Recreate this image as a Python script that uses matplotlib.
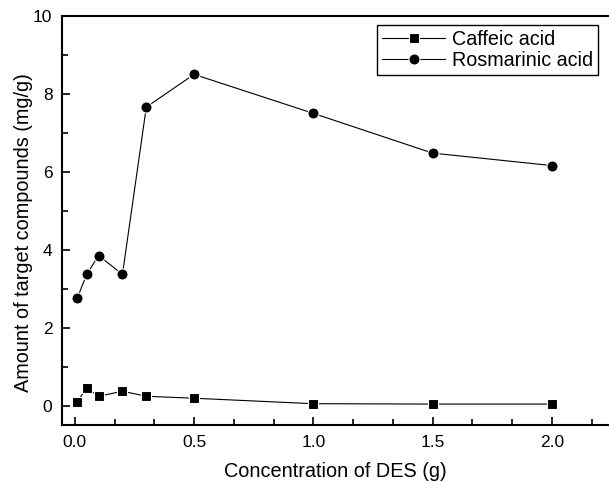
import matplotlib
matplotlib.use('Agg')

import matplotlib.pyplot as plt
from matplotlib.ticker import MultipleLocator, AutoMinorLocator

plt.rcParams['font.family'] = ['Liberation Sans', 'DejaVu Sans']

# data
des_amount = [0.01, 0.05, 0.1, 0.2, 0.3, 0.5, 1.0, 1.5, 2.0]
caffeic = [0.10, 0.45, 0.24, 0.37, 0.24, 0.19, 0.05, 0.04, 0.04]
rosmarinic = [2.75, 3.37, 3.85, 3.37, 7.66, 8.50, 7.50, 6.48, 6.16]

fig = plt.figure(figsize=(6.09, 4.82), dpi=100)
ax = fig.add_axes([0.102, 0.118, 0.898, 0.849])

ax.plot(des_amount, caffeic, color='black', lw=0.8, marker='s', ms=6.5,
        mfc='black', mec='white', mew=0.8, label='Caffeic acid')
ax.plot(des_amount, rosmarinic, color='black', lw=0.8, marker='o', ms=8,
        mfc='black', mec='white', mew=0.8, label='Rosmarinic acid')

ax.set_xlim(-0.053, 2.24)
ax.set_ylim(-0.5, 10)
ax.xaxis.set_major_locator(MultipleLocator(0.5))
ax.xaxis.set_minor_locator(AutoMinorLocator(3))
ax.yaxis.set_major_locator(MultipleLocator(2))
ax.yaxis.set_minor_locator(AutoMinorLocator(2))
ax.xaxis.set_major_formatter(plt.FuncFormatter(lambda v, p: f'{v:.1f}'))

for side in ['left', 'bottom', 'top']:
    ax.spines[side].set_linewidth(1.5)
ax.spines['right'].set_visible(False)
ax.tick_params(which='both', direction='in', width=1.2, labelsize=12.5, pad=7)
ax.tick_params(which='major', length=6)
ax.tick_params(which='minor', length=4)
ax.tick_params(axis='x', top=False)

ax.set_xlabel('Concentration of DES (g)', fontsize=14.3, labelpad=9)
ax.set_ylabel('Amount of target compounds (mg/g)', fontsize=14.3)
ax.yaxis.set_label_coords(-0.053, 0.47)

leg = ax.legend(loc='upper right', bbox_to_anchor=(0.982, 0.948),
                bbox_transform=fig.transFigure, fontsize=14.2, fancybox=False,
                edgecolor='black', framealpha=1, borderpad=0.25,
                handlelength=3.2, handletextpad=0.35, labelspacing=0.1,
                borderaxespad=0)
leg.get_frame().set_linewidth(1.0)

fig.savefig('out.png', dpi=100)
